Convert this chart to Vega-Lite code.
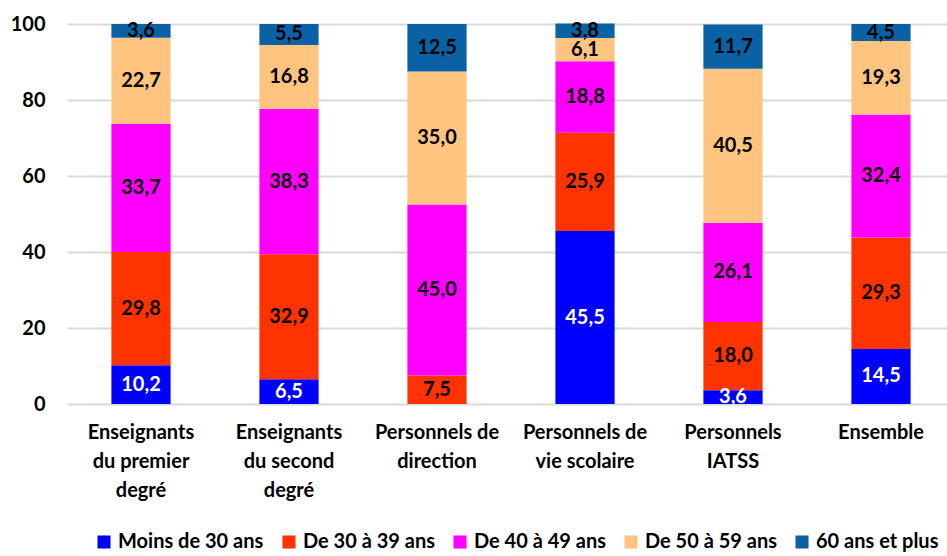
{
  "$schema": "https://vega.github.io/schema/vega-lite/v6.json",
  "width": 880,
  "height": 380,
  "autosize": {"type": "none"},
  "padding": {"left": 67, "top": 24, "right": 0, "bottom": 152},
  "background": "white",
  "config": {
    "font": "Lato",
    "view": {"stroke": null},
    "locale": {"number": {"decimal": ",", "thousands": " ", "grouping": [3], "currency": ["", " €"]}}
  },
  "data": {
    "values": [
      {"cat": "Enseignants|du premier|degré", "age": "Moins de 30 ans", "k": 1, "v": 10.2},
      {"cat": "Enseignants|du premier|degré", "age": "De 30 à 39 ans", "k": 2, "v": 29.8},
      {"cat": "Enseignants|du premier|degré", "age": "De 40 à 49 ans", "k": 3, "v": 33.7},
      {"cat": "Enseignants|du premier|degré", "age": "De 50 à 59 ans", "k": 4, "v": 22.7},
      {"cat": "Enseignants|du premier|degré", "age": "60 ans et plus", "k": 5, "v": 3.6},
      {"cat": "Enseignants|du second|degré", "age": "Moins de 30 ans", "k": 1, "v": 6.5},
      {"cat": "Enseignants|du second|degré", "age": "De 30 à 39 ans", "k": 2, "v": 32.9},
      {"cat": "Enseignants|du second|degré", "age": "De 40 à 49 ans", "k": 3, "v": 38.3},
      {"cat": "Enseignants|du second|degré", "age": "De 50 à 59 ans", "k": 4, "v": 16.8},
      {"cat": "Enseignants|du second|degré", "age": "60 ans et plus", "k": 5, "v": 5.5},
      {"cat": "Personnels de|direction", "age": "De 30 à 39 ans", "k": 2, "v": 7.5},
      {"cat": "Personnels de|direction", "age": "De 40 à 49 ans", "k": 3, "v": 45.0},
      {"cat": "Personnels de|direction", "age": "De 50 à 59 ans", "k": 4, "v": 35.0},
      {"cat": "Personnels de|direction", "age": "60 ans et plus", "k": 5, "v": 12.5},
      {"cat": "Personnels de|vie scolaire", "age": "Moins de 30 ans", "k": 1, "v": 45.5},
      {"cat": "Personnels de|vie scolaire", "age": "De 30 à 39 ans", "k": 2, "v": 25.9},
      {"cat": "Personnels de|vie scolaire", "age": "De 40 à 49 ans", "k": 3, "v": 18.8},
      {"cat": "Personnels de|vie scolaire", "age": "De 50 à 59 ans", "k": 4, "v": 6.1},
      {"cat": "Personnels de|vie scolaire", "age": "60 ans et plus", "k": 5, "v": 3.8},
      {"cat": "Personnels|IATSS", "age": "Moins de 30 ans", "k": 1, "v": 3.6},
      {"cat": "Personnels|IATSS", "age": "De 30 à 39 ans", "k": 2, "v": 18.0},
      {"cat": "Personnels|IATSS", "age": "De 40 à 49 ans", "k": 3, "v": 26.1},
      {"cat": "Personnels|IATSS", "age": "De 50 à 59 ans", "k": 4, "v": 40.5},
      {"cat": "Personnels|IATSS", "age": "60 ans et plus", "k": 5, "v": 11.7},
      {"cat": "Ensemble", "age": "Moins de 30 ans", "k": 1, "v": 14.5},
      {"cat": "Ensemble", "age": "De 30 à 39 ans", "k": 2, "v": 29.3},
      {"cat": "Ensemble", "age": "De 40 à 49 ans", "k": 3, "v": 32.4},
      {"cat": "Ensemble", "age": "De 50 à 59 ans", "k": 4, "v": 19.3},
      {"cat": "Ensemble", "age": "60 ans et plus", "k": 5, "v": 4.5}
    ]
  },
  "encoding": {
    "x": {
      "field": "cat", "type": "nominal", "sort": null, "title": null,
      "scale": {"range": [0, 888], "paddingInner": 0.6, "paddingOuter": 0.3},
      "axis": {
        "labelAngle": 0, "labelExpr": "split(datum.label, '|')",
        "labelFontSize": 20, "labelFontWeight": "bold", "labelColor": "#000000",
        "labelLineHeight": 29, "labelPadding": 18, "ticks": false, "domain": false
      }
    },
    "y": {
      "field": "v", "type": "quantitative", "stack": "zero", "title": null,
      "scale": {"domain": [0, 100], "nice": false},
      "axis": {
        "values": [0, 20, 40, 60, 80, 100], "labelFontSize": 20, "labelFontWeight": "bold",
        "labelColor": "#000000", "labelPadding": 22, "ticks": false, "domain": false,
        "gridColor": "#d9d9d9", "gridWidth": 2
      }
    },
    "order": {"field": "k", "type": "quantitative"}
  },
  "layer": [
    {
      "mark": {"type": "bar"},
      "encoding": {
        "color": {
          "field": "age", "type": "nominal", "title": null,
          "scale": {
            "domain": ["Moins de 30 ans", "De 30 à 39 ans", "De 40 à 49 ans", "De 50 à 59 ans", "60 ans et plus"],
            "range": ["#0000FF", "#FF3300", "#FF00FF", "#FFC47F", "#0A62A4"]
          },
          "legend": {
            "orient": "none", "legendX": 27, "legendY": 508, "direction": "horizontal",
            "columns": 5, "symbolType": "square", "symbolSize": 170, "symbolStrokeWidth": 0,
            "labelFontSize": 20, "labelFontWeight": "bold", "labelColor": "#000000",
            "labelOffset": 4, "columnPadding": 15, "labelLimit": 300
          }
        }
      }
    },
    {
      "mark": {"type": "text", "fontSize": 20, "fontWeight": "bold", "baseline": "middle"},
      "encoding": {
        "y": {"field": "v", "type": "quantitative", "stack": "zero", "bandPosition": 0.5},
        "text": {"field": "v", "type": "quantitative", "format": ".1f"},
        "color": {
          "condition": {"test": "datum.age === 'Moins de 30 ans'", "value": "#FFFFFF"},
          "value": "#000000"
        }
      }
    }
  ]
}
